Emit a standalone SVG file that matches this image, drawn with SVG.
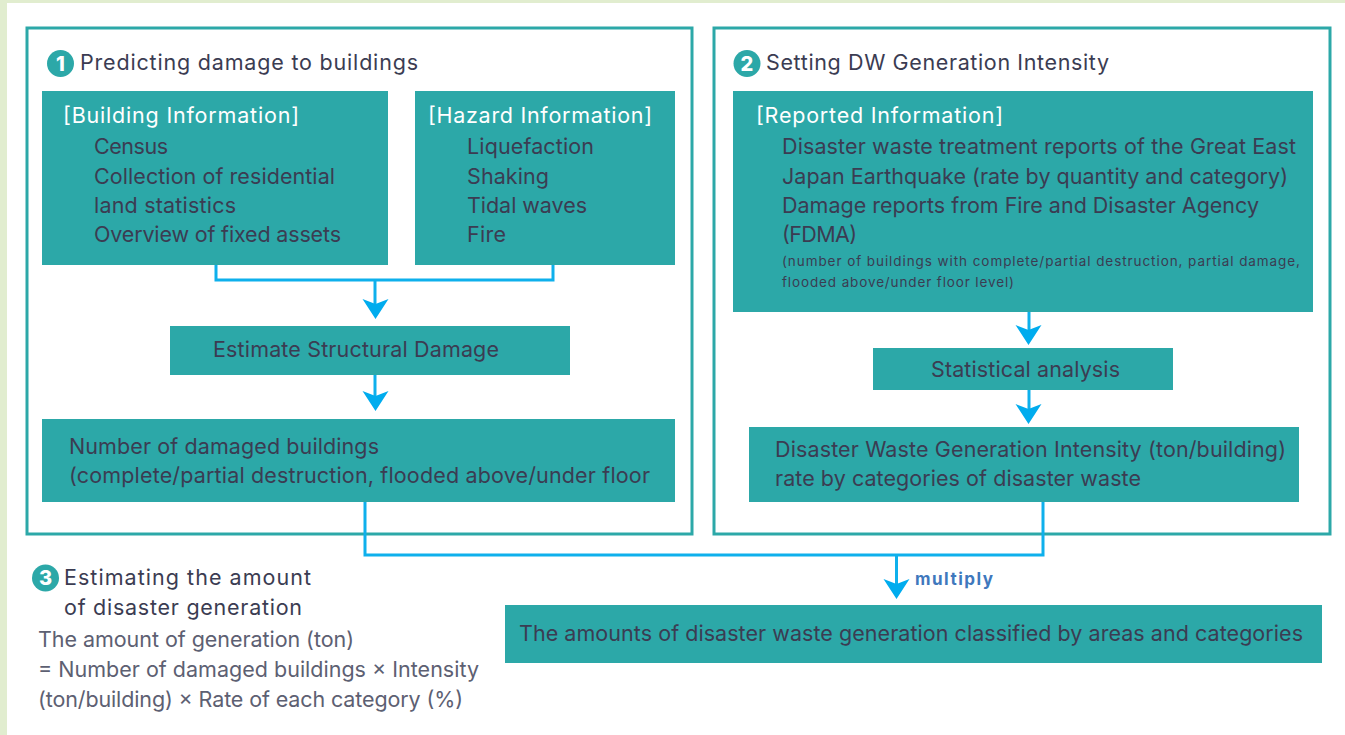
<svg xmlns="http://www.w3.org/2000/svg" width="1345" height="735" viewBox="0 0 1345 735">
<style>
text{font-family:"Inter","Noto Sans","Liberation Sans",sans-serif;font-size:21.500px;fill:#3b3c52}
.w{fill:#fff}
.g{fill:#5d6072}
.b{fill:#2ca8a8}
.f{fill:none;stroke:#2ca8a8;stroke-width:3}
.c{fill:none;stroke:#0eb0ec;stroke-width:3}
.n{font-size:20px;font-weight:800;fill:#fff;text-anchor:middle}
.s{font-size:13.500px}
.m{font-size:17px;font-weight:700;fill:#3f78bd}
</style>
<defs>
<path id="ah" d="M-13,-13 L0,-8 L13,-13 L0,7 Z" fill="#00acee"/>
</defs>
<rect width="1345" height="735" fill="#fff"/>
<rect width="1345" height="3" fill="#e1edcf"/>
<rect width="7" height="735" fill="#e1edcf"/>
<g id="panel-1">
<rect class="f" x="27" y="28" width="665" height="506"/>
<circle class="b" cx="60.500" cy="63.500" r="13.500"/>
<text class="n" x="60.500" y="70.500">1</text>
<text x="80" y="70" textLength="338">Predicting damage to buildings</text>
</g>
<g id="panel-2">
<rect class="f" x="714" y="28" width="616" height="506"/>
<circle class="b" cx="747" cy="63.500" r="13.500"/>
<text class="n" x="747" y="70.500">2</text>
<text x="766" y="70" textLength="343">Setting DW Generation Intensity</text>
</g>
<g id="connectors">
<path class="c" d="M216,265 V280 H553 V265"/>
<path class="c" d="M375,280 V312"/>
<path class="c" d="M375,375 V404"/>
<path class="c" d="M365,502 V555 H1043 V502"/>
<path class="c" d="M896.500,555 V592"/>
<path class="c" d="M1029,312 V338"/>
<path class="c" d="M1029,390 V417"/>
<use href="#ah" x="375.500" y="312"/>
<use href="#ah" x="375.500" y="404"/>
<use href="#ah" x="896.500" y="592"/>
<use href="#ah" x="1028.500" y="338"/>
<use href="#ah" x="1028.500" y="417"/>
</g>
<g id="building-information">
<rect class="b" x="42" y="91" width="346" height="174"/>
<text class="w" x="63" y="123" textLength="236">[Building Information]</text>
<text x="94" y="154" textLength="74">Census</text>
<text x="94" y="184" textLength="241">Collection of residential</text>
<text x="94" y="213" textLength="142">land statistics</text>
<text x="94" y="242" textLength="247">Overview of fixed assets</text>
</g>
<g id="hazard-information">
<rect class="b" x="415" y="91" width="260" height="174"/>
<text class="w" x="428" y="123" textLength="224">[Hazard Information]</text>
<text x="467" y="154" textLength="127">Liquefaction</text>
<text x="467" y="184" textLength="82">Shaking</text>
<text x="467" y="213" textLength="120">Tidal waves</text>
<text x="467" y="242" textLength="39">Fire</text>
</g>
<g id="estimate-structural-damage">
<rect class="b" x="170" y="326" width="400" height="49"/>
<text x="213" y="357" textLength="286">Estimate Structural Damage</text>
</g>
<g id="number-damaged">
<rect class="b" x="42" y="419" width="633" height="83"/>
<text x="69" y="454" textLength="310">Number of damaged buildings</text>
<text x="69" y="483" textLength="581">(complete/partial destruction, flooded above/under floor</text>
</g>
<g id="reported-information">
<rect class="b" x="733" y="91" width="580" height="221"/>
<text class="w" x="756" y="123" textLength="247">[Reported Information]</text>
<text x="782" y="154" textLength="514">Disaster waste treatment reports of the Great East</text>
<text x="782" y="184" textLength="506">Japan Earthquake (rate by quantity and category)</text>
<text x="782" y="213" textLength="477">Damage reports from Fire and Disaster Agency</text>
<text x="782" y="242" textLength="75">(FDMA)</text>
<text class="s" x="782" y="266" textLength="518">(number of buildings with complete/partial destruction, partial damage,</text>
<text class="s" x="782" y="287" textLength="232">flooded above/under floor level)</text>
</g>
<g id="statistical-analysis">
<rect class="b" x="873" y="348" width="300" height="42"/>
<text x="931" y="377" textLength="189">Statistical analysis</text>
</g>
<g id="dw-intensity">
<rect class="b" x="749" y="427" width="550" height="75"/>
<text x="775" y="457" textLength="511">Disaster Waste Generation Intensity (ton/building)</text>
<text x="775" y="486" textLength="366">rate by categories of disaster waste</text>
</g>
<g id="multiply-label">
<text class="m" x="915" y="585" textLength="78">multiply</text>
</g>
<g id="amounts">
<rect class="b" x="505" y="605" width="817" height="58"/>
<text x="519" y="641" textLength="784">The amounts of disaster waste generation classified by areas and categories</text>
</g>
<g id="panel-3">
<circle class="b" cx="45.500" cy="578" r="13.500"/>
<text class="n" x="45.500" y="585">3</text>
<text x="64" y="585" textLength="247">Estimating the amount</text>
<text x="64" y="615" textLength="238">of disaster generation</text>
<text class="g" x="38" y="647" textLength="316">The amount of generation (ton)</text>
<text class="g" x="38" y="677" textLength="441">= Number of damaged buildings × Intensity</text>
<text class="g" x="38" y="707" textLength="425">(ton/building) × Rate of each category (%)</text>
</g>
</svg>
